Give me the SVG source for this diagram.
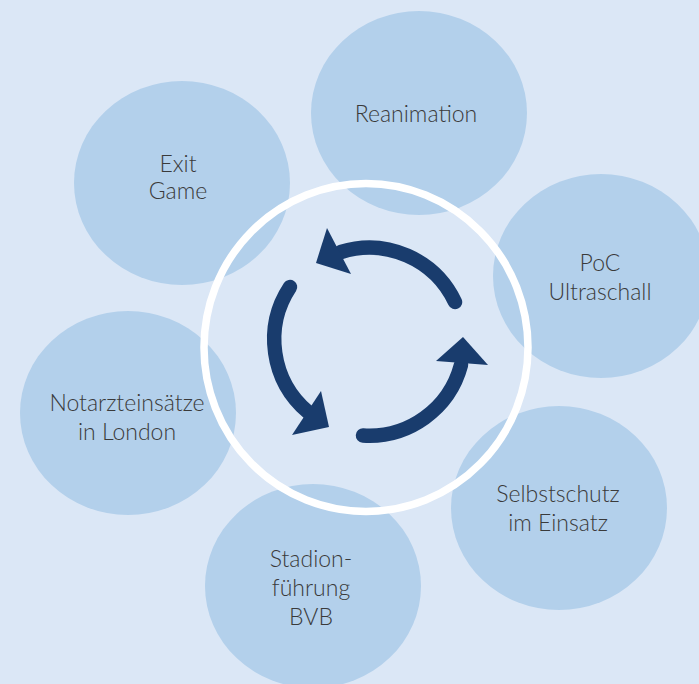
<svg xmlns="http://www.w3.org/2000/svg" width="699" height="684" viewBox="0 0 699 684">
<style>
.bub{fill:#b3d0eb}
.lbl{font-family:Lato,"Open Sans","Liberation Sans",sans-serif;font-weight:300;font-size:23px;fill:#3a3a3a;text-anchor:middle}
.arc{fill:none;stroke:#193c6d;stroke-width:14.5;stroke-linecap:round}
.head{fill:#193c6d}
</style>
<rect width="699" height="684" fill="#dbe7f6"/>
<g id="node-reanimation"><ellipse class="bub" cx="419" cy="113" rx="108" ry="102"/><text class="lbl" x="416" y="122">Reanimation</text></g>
<g id="node-exit-game"><ellipse class="bub" cx="182" cy="183" rx="108" ry="102"/><text class="lbl" x="178" y="172">Exit</text><text class="lbl" x="178" y="199">Game</text></g>
<g id="node-poc"><ellipse class="bub" cx="601" cy="276" rx="108" ry="102"/><text class="lbl" x="600" y="271">PoC</text><text class="lbl" x="600" y="300">Ultraschall</text></g>
<g id="node-notarzt"><ellipse class="bub" cx="128" cy="413" rx="108" ry="102"/><text class="lbl" x="127" y="411">Notarzteinsätze</text><text class="lbl" x="127" y="440">in London</text></g>
<g id="node-selbstschutz"><ellipse class="bub" cx="559" cy="508" rx="108" ry="102"/><text class="lbl" x="558" y="502">Selbstschutz</text><text class="lbl" x="558" y="531">im Einsatz</text></g>
<g id="node-stadion"><ellipse class="bub" cx="313" cy="586" rx="108" ry="102"/><text class="lbl" x="311" y="567">Stadion-</text><text class="lbl" x="311" y="596">führung</text><text class="lbl" x="311" y="625">BVB</text></g>
<g id="node-cycle">
<ellipse cx="366" cy="347.5" rx="162" ry="164" fill="none" stroke="#ffffff" stroke-width="7.5"/>
</g>
<g id="connectors">
<path class="arc" d="M455 302 A95 95 0 0 0 341 252"/>
<polygon class="head" points="327,228 316,263 351,274"/>
<path class="arc" d="M290 287 A95 95 0 0 0 308 412"/>
<polygon class="head" points="321,391 329,427 292,435"/>
<path class="arc" d="M363 435.5 A95 95 0 0 0 461 365"/>
<polygon class="head" points="436,361 463,337 488,365"/>
</g>
</svg>
